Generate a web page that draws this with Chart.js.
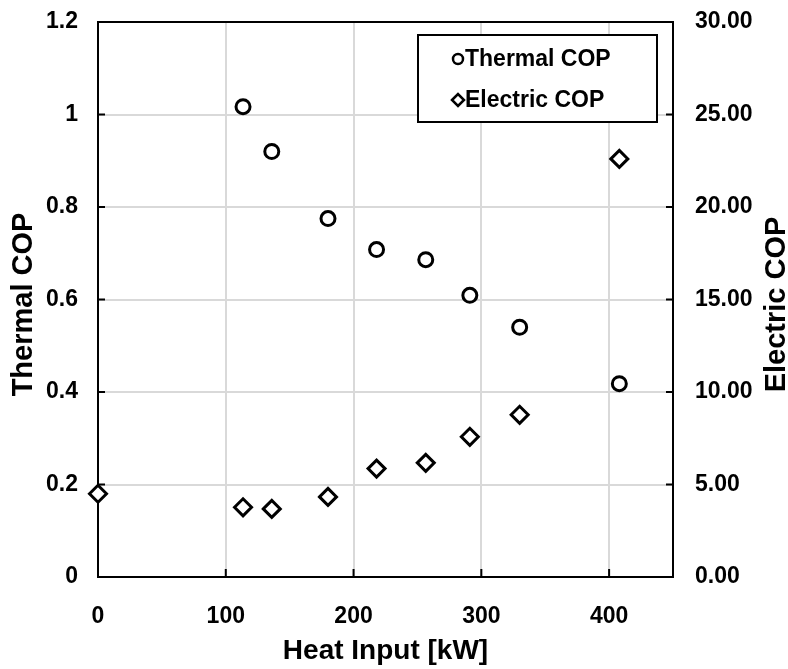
<!DOCTYPE html>
<html>
<head>
<meta charset="utf-8">
<script src="https://cdn.jsdelivr.net/npm/chart.js@4/dist/chart.umd.min.js"></script>
<style>
  html, body { margin: 0; padding: 0; background: #fff; }
  #wrap { width: 788px; height: 669px; }
</style>
</head>
<body>
<div id="wrap"><canvas id="c" width="788" height="669"></canvas></div>
<script>
// Heat input (kW) for each test point
const heatInput = [0, 113.5, 136, 180, 218, 256.5, 291, 330, 408];
// Thermal COP (left axis); no thermal reading at zero heat input
const thermalCOP = [null, 1.017, 0.92, 0.775, 0.708, 0.686, 0.609, 0.54, 0.418];
// Electric COP (right axis)
const electricCOP = [4.5, 3.77, 3.68, 4.33, 5.86, 6.17, 7.58, 8.77, 22.6];

// Axis tick labels
const heatTickLabels = ['0', '100', '200', '300', '400'];
const thermalTickLabels = ['0', '0.2', '0.4', '0.6', '0.8', '1', '1.2'];
const electricTickLabels = ['0.00', '5.00', '10.00', '15.00', '20.00', '25.00', '30.00'];

const seriesNames = ['Thermal COP', 'Electric COP'];
const axisTitles = { x: 'Heat Input [kW]', left: 'Thermal COP', right: 'Electric COP' };

const FONT = '"Liberation Sans", Arial, Helvetica, sans-serif';
const GRID = '#d9d9d9';

function pairs(xs, ys) {
  const out = [];
  xs.forEach((x, i) => { if (ys[i] !== null) out.push({ x: x, y: ys[i] }); });
  return out;
}

// Vertical axes: fixed width, no extra room reserved for the end labels
function fitVertical(width) {
  return s => { s.width = width; s.paddingTop = 0; s.paddingBottom = 0; };
}

// Rotated title reading bottom to top
function verticalTitle(ctx, text, x, y) {
  ctx.save();
  ctx.translate(x, y);
  ctx.rotate(-Math.PI / 2);
  ctx.font = 'bold 29px ' + FONT;
  ctx.fillStyle = '#000';
  ctx.textAlign = 'center';
  ctx.textBaseline = 'middle';
  ctx.fillText(text, 0, 0);
  ctx.restore();
}

// Frame, inward tick marks, vertical titles and the boxed legend
const framePlugin = {
  id: 'frame',
  beforeDatasetsDraw(chart) {
    const ctx = chart.ctx;
    const a = chart.chartArea;
    ctx.save();
    ctx.strokeStyle = '#000';
    ctx.lineWidth = 2;
    ctx.beginPath();
    ctx.moveTo(a.left - 1, a.top);
    ctx.lineTo(a.right + 1, a.top);
    // inward ticks on left axis
    chart.scales.y.ticks.forEach(t => {
      const py = chart.scales.y.getPixelForValue(t.value);
      ctx.moveTo(a.left, py); ctx.lineTo(a.left + 7, py);
    });
    // inward ticks on right axis
    chart.scales.y1.ticks.forEach(t => {
      const py = chart.scales.y1.getPixelForValue(t.value);
      ctx.moveTo(a.right - 7, py); ctx.lineTo(a.right, py);
    });
    // inward ticks on x axis
    chart.scales.x.ticks.forEach(t => {
      const px = chart.scales.x.getPixelForValue(t.value);
      ctx.moveTo(px, a.bottom - 8); ctx.lineTo(px, a.bottom);
    });
    ctx.stroke();
    ctx.restore();
  },
  afterDraw(chart) {
    const ctx = chart.ctx;
    const a = chart.chartArea;
    const midY = (a.top + a.bottom) / 2 + 5;
    verticalTitle(ctx, axisTitles.left, chart.scales.y.left + 24, midY);
    verticalTitle(ctx, axisTitles.right, chart.scales.y1.right - 11, midY);

    // legend box
    const bw = 239, bh = 87;
    const bx = a.right - 16 - bw, by = a.top + 13;
    ctx.save();
    ctx.fillStyle = '#fff';
    ctx.fillRect(bx, by, bw, bh);
    ctx.strokeStyle = '#000';
    ctx.lineWidth = 2;
    ctx.strokeRect(bx, by, bw, bh);
    ctx.font = 'bold 23px ' + FONT;
    ctx.textAlign = 'left';
    ctx.textBaseline = 'middle';
    chart.data.datasets.forEach((ds, i) => {
      const cy = by + 24 + i * 41;
      ctx.fillStyle = '#fff';
      ctx.strokeStyle = '#000';
      ctx.lineWidth = 2.5;
      Chart.helpers.drawPoint(ctx, {
        pointStyle: ds.pointStyle, radius: ds.pointStyle === 'circle' ? 5 : 6,
        rotation: 0, borderWidth: 2.5
      }, bx + 40, cy);
      ctx.fillStyle = '#000';
      ctx.fillText(ds.label, bx + 47, cy + 1);
    });
    ctx.restore();
  }
};

new Chart(document.getElementById('c'), {
  type: 'scatter',
  data: {
    datasets: [
      {
        label: seriesNames[0],
        data: pairs(heatInput, thermalCOP),
        yAxisID: 'y',
        pointStyle: 'circle',
        pointRadius: 7,
        pointHoverRadius: 7,
        pointBorderWidth: 3,
        borderColor: '#000',
        backgroundColor: '#fff',
        clip: false
      },
      {
        label: seriesNames[1],
        data: pairs(heatInput, electricCOP),
        yAxisID: 'y1',
        pointStyle: 'rectRot',
        pointRadius: 8.5,
        pointHoverRadius: 8.5,
        pointBorderWidth: 3,
        borderColor: '#000',
        backgroundColor: '#fff',
        clip: false
      }
    ]
  },
  options: {
    responsive: false,
    animation: false,
    events: [],
    layout: { padding: { top: 22, left: 0, right: 0, bottom: 0 } },
    plugins: { legend: { display: false }, tooltip: { enabled: false } },
    scales: {
      x: {
        type: 'linear',
        position: 'bottom',
        min: 0, max: 450,
        afterBuildTicks: s => { s.ticks = s.ticks.filter(t => t.value % 100 === 0); },
        afterFit: s => { s.height = 92; },
        ticks: {
          stepSize: 100,
          padding: 26,
          color: '#000',
          font: { family: FONT, size: 23, weight: 'bold' },
          callback: (v, i) => heatTickLabels[i]
        },
        grid: { color: GRID, lineWidth: 2, drawTicks: false },
        border: { color: '#000', width: 2 },
        title: {
          display: true, text: axisTitles.x, color: '#000',
          font: { family: FONT, size: 28, weight: 'bold' },
          padding: { top: 0, bottom: 1 }
        }
      },
      y: {
        type: 'linear',
        position: 'left',
        min: 0, max: 1.2,
        afterFit: fitVertical(98),
        ticks: {
          stepSize: 0.2,
          padding: 20,
          color: '#000',
          font: { family: FONT, size: 23, weight: 'bold' },
          callback: (v, i) => thermalTickLabels[i]
        },
        grid: { color: GRID, lineWidth: 2, drawTicks: false },
        border: { color: '#000', width: 2 }
      },
      y1: {
        type: 'linear',
        position: 'right',
        min: 0, max: 30,
        afterFit: fitVertical(115),
        ticks: {
          stepSize: 5,
          padding: 22,
          color: '#000',
          font: { family: FONT, size: 23, weight: 'bold' },
          callback: (v, i) => electricTickLabels[i]
        },
        grid: { display: false, drawTicks: false },
        border: { color: '#000', width: 2 }
      }
    }
  },
  plugins: [framePlugin]
});
</script>
</body>
</html>
